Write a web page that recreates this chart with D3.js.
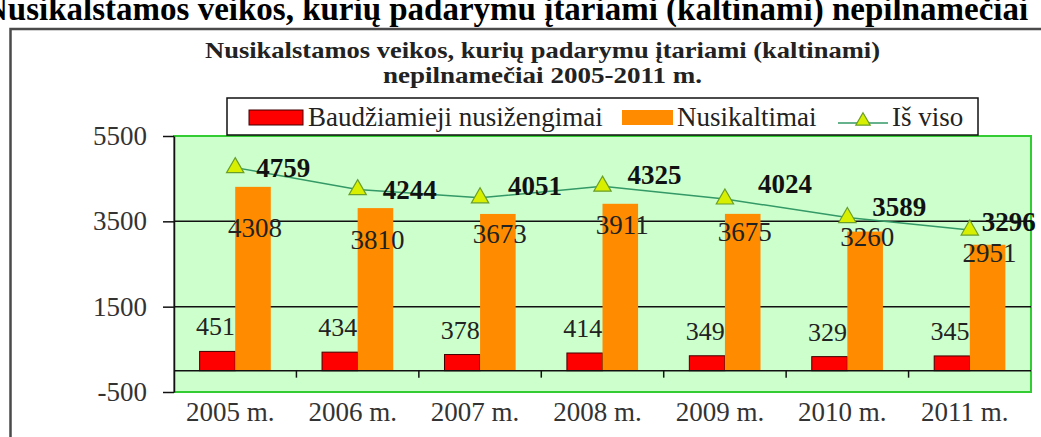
<!DOCTYPE html>
<html>
<head>
<meta charset="utf-8">
<script src="https://cdn.jsdelivr.net/npm/d3@7"></script>
<style>
  body { margin: 0; background: #fff; }
  svg { display: block; }
  text { font-family: "Liberation Serif", "Times New Roman", serif; }
</style>
</head>
<body>
<svg width="1041" height="437"></svg>
<script>
// data
const years = ['2005 m.', '2006 m.', '2007 m.', '2008 m.', '2009 m.', '2010 m.', '2011 m.'];
const offences = [451, 434, 378, 414, 349, 329, 345];       // Baudžiamieji nusižengimai
const crimes = [4308, 3810, 3673, 3911, 3675, 3260, 2951];   // Nusikaltimai
const totals = [4759, 4244, 4051, 4325, 4024, 3589, 3296];   // Iš viso
const yTicks = [-500, 1500, 3500, 5500];

// label nudges, the original labels were dragged around by hand
const crimeLabelDy = [50, 41, 29, 30, 27, 14, 17];
const totalLabelDx = [21, 25, 28, 25, 33, 25, 12];
const totalLabelDy = [0, 0, -12, -11, -15, -11, -8];

const svg = d3.select('svg');
const ink = '#222';

const plotLeft = 174, plotRight = 1031, plotTop = 136, plotBottom = 392;

const x = d3.scaleBand().domain(years).range([plotLeft, plotRight]).padding(0);
const xs = d3.scaleBand().domain(['off', 'cri']).range([0, x.bandwidth()])
  .paddingInner(0).paddingOuter(0.72);
const y = d3.scaleLinear().domain([-500, 5500]).range([plotBottom, plotTop]);

// page heading, cut by the top edge
svg.append('text')
  .attr('x', -16).attr('y', 20)
  .attr('font-size', 33).attr('font-weight', 'bold').attr('fill', '#000')
  .text('Nusikalstamos veikos, kurių padarymu įtariami (kaltinami) nepilnamečiai');

// chart frame
svg.append('rect')
  .attr('x', 10.5).attr('y', 29).attr('width', 1100).attr('height', 500)
  .attr('fill', '#fff').attr('stroke', '#4a4a4a').attr('stroke-width', 2.5);

// chart title (a bit wide in the original, so stretch it)
svg.append('text')
  .attr('x', 205).attr('y', 58)
  .attr('textLength', 675).attr('lengthAdjust', 'spacingAndGlyphs')
  .attr('font-size', 23).attr('font-weight', 'bold').attr('fill', ink)
  .text('Nusikalstamos veikos, kurių padarymu įtariami (kaltinami)');
svg.append('text')
  .attr('x', 383).attr('y', 83)
  .attr('textLength', 319).attr('lengthAdjust', 'spacingAndGlyphs')
  .attr('font-size', 23).attr('font-weight', 'bold').attr('fill', ink)
  .text('nepilnamečiai 2005-2011 m.');

// plot area
svg.append('rect')
  .attr('x', plotLeft).attr('y', plotTop).attr('width', plotRight - plotLeft).attr('height', plotBottom - plotTop)
  .attr('fill', '#ccffcc').attr('stroke', '#33cc33').attr('stroke-width', 2);

// gridlines
svg.append('g').selectAll('line')
  .data(yTicks.filter(d => d > -500 && d < 5500))
  .join('line')
  .attr('x1', plotLeft).attr('x2', plotRight)
  .attr('y1', d => y(d)).attr('y2', d => y(d))
  .attr('stroke', '#111').attr('stroke-width', 1.5);

// y axis
const yAxis = svg.append('g')
  .attr('transform', `translate(${plotLeft},0)`)
  .call(d3.axisLeft(y).tickValues(yTicks).tickFormat(d => String(d))
    .tickSize(11).tickSizeOuter(0).tickPadding(16));
yAxis.select('.domain').attr('stroke', '#111').attr('stroke-width', 1.5);
yAxis.selectAll('.tick line').attr('stroke', '#111').attr('stroke-width', 1.5);
yAxis.selectAll('.tick text')
  .attr('font-size', 27).attr('fill', '#333')
  .style('font-family', '"Liberation Serif", "Times New Roman", serif');

// category labels at the bottom
const xAxis = svg.append('g')
  .attr('transform', `translate(0,${plotBottom})`)
  .call(d3.axisBottom(x).tickSize(0).tickPadding(10));
xAxis.select('.domain').remove();
xAxis.selectAll('.tick text')
  .attr('dx', -5).attr('font-size', 27).attr('fill', '#333')
  .style('font-family', '"Liberation Serif", "Times New Roman", serif');

// bars
const bars = svg.append('g');
bars.selectAll('.off')
  .data(offences)
  .join('rect')
  .attr('class', 'off')
  .attr('x', (d, i) => x(years[i]) + xs('off'))
  .attr('width', xs.bandwidth())
  .attr('y', d => y(d))
  .attr('height', d => y(0) - y(d))
  .attr('fill', '#ff0000').attr('stroke', '#400000').attr('stroke-width', 1);

bars.selectAll('.cri')
  .data(crimes)
  .join('rect')
  .attr('class', 'cri')
  .attr('x', (d, i) => x(years[i]) + xs('cri'))
  .attr('width', xs.bandwidth())
  .attr('y', d => y(d))
  .attr('height', d => y(0) - y(d))
  .attr('fill', '#ff8c00');

// category axis along zero
svg.append('line')
  .attr('x1', plotLeft).attr('x2', plotRight).attr('y1', y(0)).attr('y2', y(0))
  .attr('stroke', '#111').attr('stroke-width', 1.5);
svg.append('g').selectAll('line')
  .data(years.slice(1))
  .join('line')
  .attr('x1', d => x(d)).attr('x2', d => x(d))
  .attr('y1', y(0)).attr('y2', y(0) + 7)
  .attr('stroke', '#111').attr('stroke-width', 1.5);

// bar labels
svg.append('g').selectAll('text')
  .data(offences)
  .join('text')
  .attr('x', (d, i) => x(years[i]) + xs('off') + xs.bandwidth() / 2 - 2)
  .attr('y', d => y(d) - 16)
  .attr('text-anchor', 'middle').attr('font-size', 26).attr('fill', ink)
  .text(d => d);

svg.append('g').selectAll('text')
  .data(crimes)
  .join('text')
  .attr('x', (d, i) => x(years[i]) + xs('cri') + xs.bandwidth() / 2 + 2)
  .attr('y', (d, i) => y(d) + crimeLabelDy[i])
  .attr('text-anchor', 'middle').attr('font-size', 27).attr('fill', ink)
  .text(d => d);

// total line
const cx = i => x(years[i]) + x.bandwidth() / 2;
const line = d3.line().x((d, i) => cx(i)).y(d => y(d));
svg.append('path')
  .attr('d', line(totals))
  .attr('fill', 'none').attr('stroke', '#339966').attr('stroke-width', 1.5);

const tri = d3.symbol(d3.symbolTriangle, 130);
svg.append('g').selectAll('path')
  .data(totals)
  .join('path')
  .attr('d', tri)
  .attr('transform', (d, i) => `translate(${cx(i)},${y(d)})`)
  .attr('fill', '#d8f000').attr('stroke', '#6a9e2a').attr('stroke-width', 1.2);

svg.append('g').selectAll('text')
  .data(totals)
  .join('text')
  .attr('x', (d, i) => cx(i) + totalLabelDx[i])
  .attr('y', (d, i) => y(d) + totalLabelDy[i] + 9)
  .attr('font-size', 27).attr('font-weight', 'bold').attr('fill', '#111')
  .text(d => d);

// legend
const legend = svg.append('g');
legend.append('rect')
  .attr('x', 227).attr('y', 98).attr('width', 751).attr('height', 37)
  .attr('fill', '#fff').attr('stroke', '#111').attr('stroke-width', 1.5);
legend.append('rect')
  .attr('x', 249).attr('y', 110).attr('width', 54).attr('height', 15)
  .attr('fill', '#ff0000').attr('stroke', '#400000').attr('stroke-width', 1);
legend.append('text')
  .attr('x', 308).attr('y', 126).attr('font-size', 27).attr('fill', ink)
  .text('Baudžiamieji nusižengimai');
legend.append('rect')
  .attr('x', 622).attr('y', 110).attr('width', 51).attr('height', 15)
  .attr('fill', '#ff8c00');
legend.append('text')
  .attr('x', 677).attr('y', 126).attr('font-size', 27).attr('fill', ink)
  .text('Nusikaltimai');
legend.append('line')
  .attr('x1', 838).attr('x2', 888).attr('y1', 123).attr('y2', 123)
  .attr('stroke', '#339966').attr('stroke-width', 1.5);
legend.append('path')
  .attr('d', d3.symbol(d3.symbolTriangle, 90))
  .attr('transform', 'translate(863,121)')
  .attr('fill', '#d8f000').attr('stroke', '#6a9e2a').attr('stroke-width', 1.2);
legend.append('text')
  .attr('x', 892).attr('y', 126).attr('font-size', 27).attr('fill', ink)
  .text('Iš viso');
</script>
</body>
</html>
